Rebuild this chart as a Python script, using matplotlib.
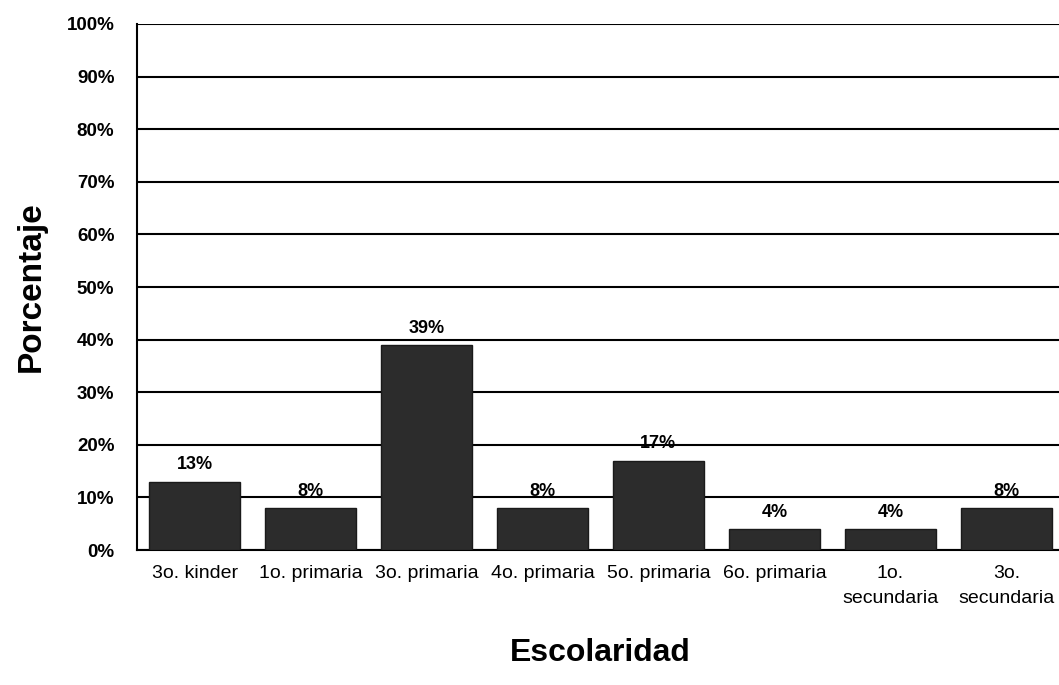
import matplotlib.pyplot as plt
import numpy as np

plt.rcParams['font.family'] = ['Liberation Sans', 'DejaVu Sans']

categorias = ['3o. kinder', '1o. primaria', '3o. primaria', '4o. primaria',
              '5o. primaria', '6o. primaria', '1o.\nsecundaria', '3o.\nsecundaria']
porcentajes = [13, 8, 39, 8, 17, 4, 4, 8]
yticks = np.arange(0, 101, 10)

fig = plt.figure(figsize=(10.59, 6.85), dpi=100)
ax = fig.add_axes([0.129, 0.197, 0.876, 0.768])

ind = np.arange(len(categorias))
bars = ax.bar(ind, porcentajes, 0.79, color='#2c2c2c', edgecolor='#1a1a1a', zorder=3)

for rect, val in zip(bars, porcentajes):
    ax.annotate('%d%%' % val, (rect.get_x() + rect.get_width() / 2, rect.get_height()),
                xytext=(0, 6), textcoords='offset points', ha='center', va='bottom',
                fontsize=13, fontweight='bold')

ax.set_xlim(-0.5, len(categorias) - 0.5)
ax.set_ylim(0, 100)
ax.set_yticks(yticks)
ax.set_yticklabels(['%d%%' % v for v in yticks], fontsize=13.5, fontweight='bold')
ax.set_xticks(ind)
ax.set_xticklabels(categorias, fontsize=14, linespacing=1.6)
ax.tick_params(axis='both', length=0)
ax.tick_params(axis='y', pad=16)
ax.tick_params(axis='x', pad=11)

ax.grid(axis='y', color='black', linewidth=1.5, zorder=0)
ax.set_axisbelow(True)
for s in ['top', 'right']:
    ax.spines[s].set_visible(False)
ax.spines['left'].set_linewidth(1.5)
ax.spines['bottom'].set_linewidth(1.5)

ax.set_ylabel('Porcentaje', fontsize=24, fontweight='bold', labelpad=14)
ax.set_xlabel('Escolaridad', fontsize=23, fontweight='bold', labelpad=22)

plt.savefig('out.png', dpi=100)
